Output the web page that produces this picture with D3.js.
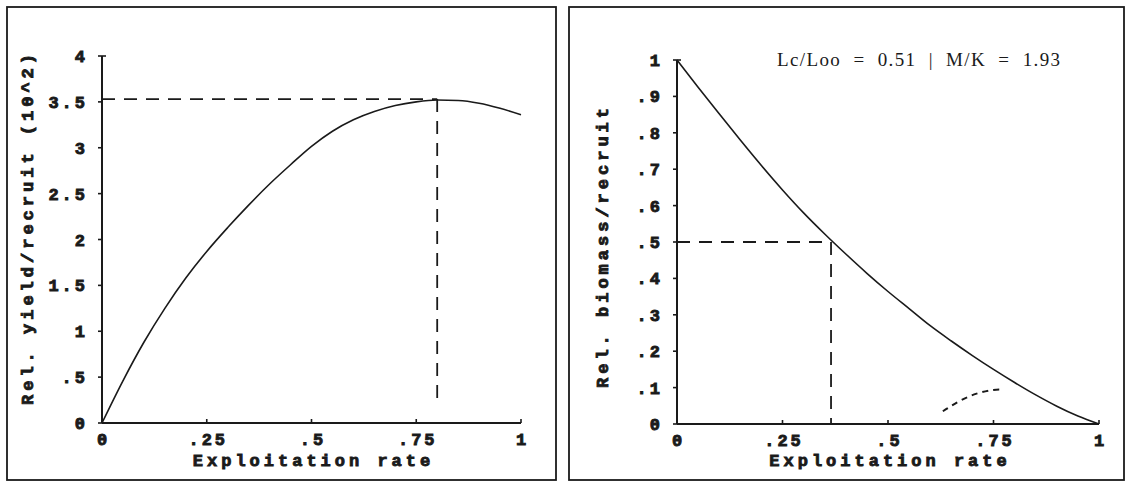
<!DOCTYPE html>
<html>
<head>
<meta charset="utf-8">
<script src="https://cdn.jsdelivr.net/npm/d3@7"></script>
<style>
  html, body { margin: 0; padding: 0; background: #fff; }
  svg { display: block; }
  .tick-label { font-family: "Liberation Mono", "DejaVu Sans Mono", monospace; font-weight: bold; font-size: 17px; fill: #1a1a1a; stroke: #1a1a1a; stroke-width: 0.9px; letter-spacing: 3px; }
  .axis-title { font-family: "Liberation Mono", "DejaVu Sans Mono", monospace; font-weight: bold; font-size: 17px; fill: #1a1a1a; stroke: #1a1a1a; stroke-width: 0.9px; letter-spacing: 4px; }
  .note { font-family: "Liberation Serif", "DejaVu Serif", serif; font-size: 19px; fill: #1a1a1a; }
</style>
</head>
<body>
<svg id="chart" width="1130" height="482"></svg>
<script>
// ---------------- data ----------------
const exploitation = [0, 0.05, 0.1, 0.15, 0.2, 0.25, 0.3, 0.35, 0.4, 0.45, 0.5,
                      0.55, 0.6, 0.65, 0.7, 0.75, 0.8, 0.85, 0.9, 0.95, 1.0];
// Relative yield per recruit (x 10^-2)
const yieldPerRecruit = [0, 0.46, 0.88, 1.25, 1.58, 1.87, 2.13, 2.375, 2.605, 2.815, 3.015,
                         3.18, 3.305, 3.395, 3.46, 3.50, 3.52, 3.515, 3.485, 3.43, 3.36];
// Relative biomass per recruit
const biomassPerRecruit = [1.0, 0.925, 0.852, 0.78, 0.71, 0.643, 0.58, 0.522, 0.467, 0.414, 0.364,
                           0.317, 0.27, 0.228, 0.188, 0.15, 0.114, 0.08, 0.049, 0.022, 0.0];
const eMax = 0.80, yMax = 3.53;      // maximum of yield curve
const e50 = 0.365, b50 = 0.5;        // 50% biomass point
const xTicks = [0, 0.25, 0.5, 0.75, 1];
const xTickLabels = ["0", ".25", ".5", ".75", "1"];
const yTicksLeft = [0, 0.5, 1, 1.5, 2, 2.5, 3, 3.5, 4];
const yTickLabelsLeft = ["0", ".5", "1", "1.5", "2", "2.5", "3", "3.5", "4"];
const yTicksRight = [0, 0.1, 0.2, 0.3, 0.4, 0.5, 0.6, 0.7, 0.8, 0.9, 1];
const yTickLabelsRight = ["0", ".1", ".2", ".3", ".4", ".5", ".6", ".7", ".8", ".9", "1"];
// small hand-drawn dashed arrow on right panel (data units)
const arrowE = [0.63, 0.67, 0.71, 0.75, 0.77];
const arrowB = [0.035, 0.065, 0.085, 0.095, 0.095];
const xTitle = "Exploitation rate";
const yTitleLeft = "Rel. yield/recruit (10^2)";
const yTitleRight = "Rel. biomass/recruit";
const noteText = "Lc/Loo  =  0.51  |  M/K  =  1.93";

// ---------------- drawing ----------------
const svg = d3.select("#chart");
svg.append("rect").attr("width", 1130).attr("height", 482).attr("fill", "#fff");

const ink = "#1a1a1a";

function panel(opts) {
  const g = svg.append("g");
  g.append("rect")
    .attr("x", opts.frame[0]).attr("y", opts.frame[1])
    .attr("width", opts.frame[2]).attr("height", opts.frame[3])
    .attr("fill", "none").attr("stroke", ink).attr("stroke-width", 1.8);

  const x = d3.scaleLinear().domain([0, 1]).range(opts.xRange);
  const y = d3.scaleLinear().domain(opts.yDomain).range(opts.yRange);
  const y0 = y(opts.yDomain[0]);

  g.append("line").attr("x1", x(0)).attr("x2", x(1)).attr("y1", y0).attr("y2", y0)
    .attr("stroke", ink).attr("stroke-width", 2);
  g.append("line").attr("x1", x(0)).attr("x2", x(0)).attr("y1", y0).attr("y2", y(opts.yDomain[1]))
    .attr("stroke", ink).attr("stroke-width", 2);

  g.selectAll(".xt").data(xTicks).enter().append("line")
    .attr("x1", d => x(d)).attr("x2", d => x(d))
    .attr("y1", y0).attr("y2", y0 - 4)
    .attr("stroke", ink).attr("stroke-width", 1.6);
  g.selectAll(".xl").data(xTicks).enter().append("text")
    .attr("class", "tick-label")
    .attr("x", d => x(d) + 1.5).attr("y", y0 + 22)
    .attr("text-anchor", "middle")
    .text((d, i) => xTickLabels[i]);

  g.selectAll(".yt").data(opts.yTicks).enter().append("line")
    .attr("x1", x(0)).attr("x2", x(0) - 4)
    .attr("y1", d => y(d)).attr("y2", d => y(d))
    .attr("stroke", ink).attr("stroke-width", 1.6);
  g.append("line").attr("x1", x(0)).attr("x2", x(0) + 4)
    .attr("y1", y(opts.yDomain[1])).attr("y2", y(opts.yDomain[1]))
    .attr("stroke", ink).attr("stroke-width", 1.6);
  g.selectAll(".yl").data(opts.yTicks).enter().append("text")
    .attr("class", "tick-label")
    .attr("x", x(0) - 14).attr("y", d => y(d) + 6)
    .attr("text-anchor", "end")
    .text((d, i) => opts.yLabels[i]);

  g.append("text").attr("class", "axis-title")
    .attr("x", (x(0) + x(1)) / 2 + 2).attr("y", opts.frame[1] + opts.frame[3] - 14)
    .attr("text-anchor", "middle").text(xTitle);
  const ty = (y0 + y(opts.yDomain[1])) / 2 + opts.yTitleShift;
  g.append("text").attr("class", "axis-title")
    .attr("transform", `translate(${opts.yTitleX},${ty}) rotate(-90)`)
    .attr("text-anchor", "middle").text(opts.yTitle);

  const dash = "13,9";
  g.append("path")
    .attr("d", d3.line()([[x(0), y(opts.refY)], [x(opts.refX), y(opts.refY)]]))
    .attr("stroke", ink).attr("stroke-width", 1.8).attr("fill", "none")
    .attr("stroke-dasharray", dash);
  g.append("path")
    .attr("d", d3.line()([[x(opts.refX), y(opts.refY)], [x(opts.refX), y(opts.refYEnd)]]))
    .attr("stroke", ink).attr("stroke-width", 1.8).attr("fill", "none")
    .attr("stroke-dasharray", dash);

  const line = d3.line().x((d, i) => x(exploitation[i])).y(d => y(d)).curve(d3.curveMonotoneX);
  g.append("path").datum(opts.values).attr("d", line)
    .attr("fill", "none").attr("stroke", ink).attr("stroke-width", 1.6);

  return { g, x, y };
}

panel({
  frame: [7, 7, 549, 473],
  xRange: [102, 521], yDomain: [0, 4], yRange: [423, 56],
  yTicks: yTicksLeft, yLabels: yTickLabelsLeft,
  yTitle: yTitleLeft, yTitleX: 33, yTitleShift: -12,
  refX: eMax, refY: yMax, refYEnd: 0.2,
  values: yieldPerRecruit
});

const right = panel({
  frame: [569, 7, 555, 473],
  xRange: [677, 1099], yDomain: [0, 1], yRange: [424, 60],
  yTicks: yTicksRight, yLabels: yTickLabelsRight,
  yTitle: yTitleRight, yTitleX: 608, yTitleShift: 4,
  refX: e50, refY: b50, refYEnd: 0,
  values: biomassPerRecruit
});

right.g.append("text").attr("class", "note")
  .attr("x", 777).attr("y", 66)
  .attr("xml:space", "preserve").style("white-space", "pre")
  .attr("textLength", 283).attr("lengthAdjust", "spacing")
  .text(noteText);

right.g.append("path")
  .attr("d", d3.line().x((d, i) => right.x(arrowE[i])).y(d => right.y(d)).curve(d3.curveBasis)(arrowB))
  .attr("fill", "none").attr("stroke", ink).attr("stroke-width", 2)
  .attr("stroke-dasharray", "6,5");
</script>
</body>
</html>
